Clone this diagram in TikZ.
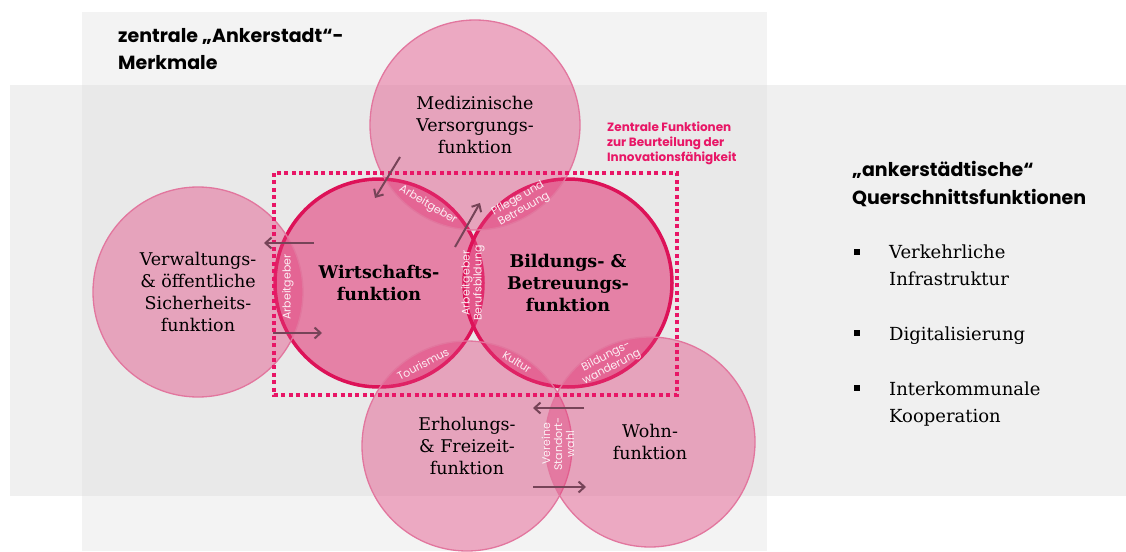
\documentclass[tikz,border=0pt]{standalone}
\usepackage{fontspec}
\setmainfont{DejaVu Serif}
\setsansfont{Poppins}
\usetikzlibrary{arrows.meta,positioning}
\definecolor{rosa}{RGB}{227,60,122}
\definecolor{rosarand}{RGB}{226,118,158}
\definecolor{kernrand}{RGB}{221,18,88}
\definecolor{pfeil}{RGB}{118,68,88}
\definecolor{punkt}{RGB}{232,22,102}
\definecolor{feld}{RGB}{243,243,243}
\definecolor{band}{RGB}{240,240,240}
\definecolor{mitte}{RGB}{233,233,233}
\tikzset{outer node/.style={circle,minimum size=210pt,inner sep=0pt,fill=rosa,fill opacity=0.4,text opacity=1,draw=rosarand,line width=1.3pt,align=center,font=\fontsize{17.5}{22}\selectfont},
         core node/.style={circle,minimum size=208pt,inner sep=0pt,fill=rosa,fill opacity=0.6,text opacity=1,draw=kernrand,line width=3.5pt,align=center,font=\fontsize{17.5}{22}\selectfont\bfseries},
         lens label/.style={rectangle,inner sep=0pt,align=center,text=white,text opacity=0.9,font=\sffamily\fontsize{11}{12}\selectfont},
         heading/.style={rectangle,inner sep=0pt,align=left,font=\sffamily\bfseries\fontsize{19}{28}\selectfont},
         bullet item/.style={rectangle,inner sep=0pt,align=left,font=\fontsize{18}{27}\selectfont},
         bullet box/.style={rectangle,fill=black,minimum size=5.5pt,inner sep=0pt},
         link/.style={->,draw=pfeil,line width=2pt},
         frame box/.style={draw=punkt,line width=4pt,dash pattern=on 4pt off 3.4pt}
}
\begin{document}
\begin{tikzpicture}[x=1pt,y=-1pt,>={Straight Barb[length=6pt,width=11pt]}]
\useasboundingbox (0,0) rectangle (1126,551);

% graue Felder
\fill[feld] (82,12) rectangle (767,551);
\fill[band] (10,85) rectangle (1126,496);
\fill[mitte] (82,85) rectangle (767,496);

% zentrale Funktionen
\node [core node] (wirt) at (379,283) {Wirtschafts-\\funktion};
\node [core node] (bild) at (568,283) {Bildungs- \&\\Betreuungs-\\funktion};

% weitere Funktionen
\node [outer node] (med) at (475,125) {Medizinische\\Versorgungs-\\funktion};
\node [outer node] (verw) at (198,292) {Verwaltungs-\\\& öffentliche\\Sicherheits-\\funktion};
\node [outer node] (erh) at (467,446) {Erholungs-\\\& Freizeit-\\funktion};
\node [outer node] (wohn) at (650,442) {Wohn-\\funktion};

\draw [frame box] (274,173) rectangle (677,395);

% Schnittmengen
\node [lens label, rotate=-31] (l-med-wirt) at (428,205) {Arbeitgeber};
\node [lens label, rotate=30] (l-med-bild) at (521,204) {Pflege und\\Betreuung};
\node [lens label, rotate=90] (l-verw-wirt) at (288,287) {Arbeitgeber};
\node [lens label, rotate=90] (l-wirt-bild) at (473,283) {Arbeitgeber\\Berufsbildung};
\node [lens label, rotate=28] (l-wirt-erh) at (423,364) {Tourismus};
\node [lens label, rotate=-32] (l-bild-erh) at (517,362) {Kultur};
\node [lens label, rotate=27] (l-bild-wohn) at (609,362) {Bildungs-\\wanderung};
\node [lens label, rotate=90] (l-erh-wohn) at (558,444) {Vereine\\Standort-\\wahl};

% Pfeile
\coordinate (a1) at (400,157); \coordinate (b1) at (375,198);
\coordinate (a2) at (455,247); \coordinate (b2) at (480,203);
\coordinate (a3) at (314,243); \coordinate (b3) at (264,243);
\coordinate (a4) at (273,333); \coordinate (b4) at (322,333);
\coordinate (a5) at (584,408); \coordinate (b5) at (533,408);
\coordinate (a6) at (533,487); \coordinate (b6) at (586,487);
\foreach \i in {1,...,6}
  \draw [link] (a\i) -- (b\i);

% Texte (base = letzte Zeile)
\node [heading, anchor=base west] (anker) at (118,70) {zentrale „Ankerstadt“-\\Merkmale};
\node [heading, anchor=base west] (quer) at (852,204) {„ankerstädtische“\\Querschnittsfunktionen};
\node [rectangle,inner sep=0pt,align=left,text=punkt,anchor=base west,
       font=\sffamily\bfseries\fontsize{12}{15}\selectfont] (zentral) at (607,161)
       {Zentrale Funktionen\\zur Beurteilung der\\Innovationsfähigkeit};

\node [bullet box] (p1) at (857,252) {};
\node [bullet box] (p2) at (857,333) {};
\node [bullet box] (p3) at (857,388) {};
\node [bullet item, anchor=base west] (verk) at (889,285) {Verkehrliche\\Infrastruktur};
\node [bullet item, anchor=base west] (digi) at (889,340) {Digitalisierung};
\node [bullet item, anchor=base west] (inter) at (889,422) {Interkommunale\\Kooperation};
\end{tikzpicture}
\end{document}
